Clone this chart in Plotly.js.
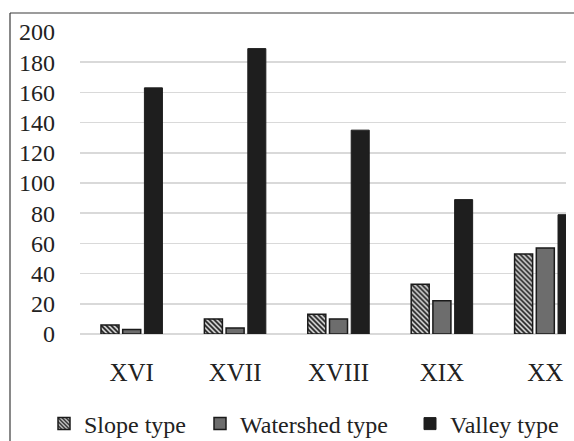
<!DOCTYPE html>
<html>
<head>
<meta charset="utf-8">
<script src="https://cdn.plot.ly/plotly-3.0.1.min.js"></script>
<style>html,body{margin:0;padding:0;background:#fff;}</style>
</head>
<body>
<div id="chart" style="width:574px;height:441px;"></div>
<script>
var categories = ["XVI", "XVII", "XVIII", "XIX", "XX"];
var slopeType = [6, 10, 13, 33, 53];
var watershedType = [3, 4, 10, 22, 57];
var valleyType = [163, 189, 135, 89, 79];
var seriesNames = ["Slope type", "Watershed type", "Valley type"];
var yTicks = [0, 20, 40, 60, 80, 100, 120, 140, 160, 180, 200];

var font = "'Liberation Serif'";
var traces = [
  {
    type: "bar", name: seriesNames[0], x: categories, y: slopeType, legend: "legend",
    marker: {color: "#ffffff", line: {color: "#1a1a1a", width: 1.5},
      pattern: {shape: "\\", fgcolor: "#1a1a1a", bgcolor: "#dddddd", size: 3.5, solidity: 0.5}}
  },
  {
    type: "bar", name: seriesNames[1], x: categories, y: watershedType, legend: "legend2",
    marker: {color: "#6d6d6d", line: {color: "#1a1a1a", width: 1.5}}
  },
  {
    type: "bar", name: seriesNames[2], x: categories, y: valleyType, legend: "legend3",
    marker: {color: "#1e1e1e", line: {color: "#1e1e1e", width: 1}}
  }
];

var pl = 80, pr = 8, pt = 32, pb = 107, W = 574, H = 441;
var pw = W - pl - pr, ph = H - pt - pb;
function px(x) { return (x - pl) / pw; }
function py(y) { return 1 - (y - pt) / ph; }

function leg(left) {
  return {orientation: "h", x: px(left), xanchor: "left", y: py(424), yanchor: "middle",
    font: {family: font, size: 24, color: "#222222"}, itemwidth: 30,
    itemclick: false, bgcolor: "rgba(0,0,0,0)"};
}

var layout = {
  width: W, height: H,
  margin: {l: pl, r: pr, t: pt, b: pb, pad: 0, autoexpand: false},
  paper_bgcolor: "#ffffff", plot_bgcolor: "#ffffff",
  font: {family: font, size: 24, color: "#222222"},
  barmode: "group", bargap: 0.37, bargroupgap: 0.17,
  showlegend: true,
  legend: leg(44),
  legend2: leg(200),
  legend3: leg(410),
  xaxis: {range: [-0.5, 4.2], showgrid: false, zeroline: false, showline: false, ticks: "",
    tickangle: 0, automargin: false,
    tickfont: {family: font, size: 25, color: "#222222"}, ticklabelstandoff: 21, fixedrange: true},
  yaxis: {range: [0, 200], tickvals: yTicks, showgrid: true, gridcolor: "#d9d9d9", gridwidth: 1.5,
    zeroline: true, zerolinecolor: "#d9d9d9", zerolinewidth: 1.5, showline: false, ticks: "",
    automargin: false,
    tickfont: {family: font, size: 24, color: "#222222"}, ticklabelstandoff: 24, fixedrange: true},
  shapes: [
    {type: "line", xref: "paper", yref: "paper", x0: px(10), x1: px(10), y0: py(13), y1: py(441),
      line: {color: "#3a3a3a", width: 1.2}, layer: "above"},
    {type: "line", xref: "paper", yref: "paper", x0: px(10), x1: px(574), y0: py(13), y1: py(13),
      line: {color: "#3a3a3a", width: 1.2}, layer: "above"}
  ]
};

Plotly.newPlot("chart", traces, layout, {displayModeBar: false, staticPlot: true});
</script>
</body>
</html>
